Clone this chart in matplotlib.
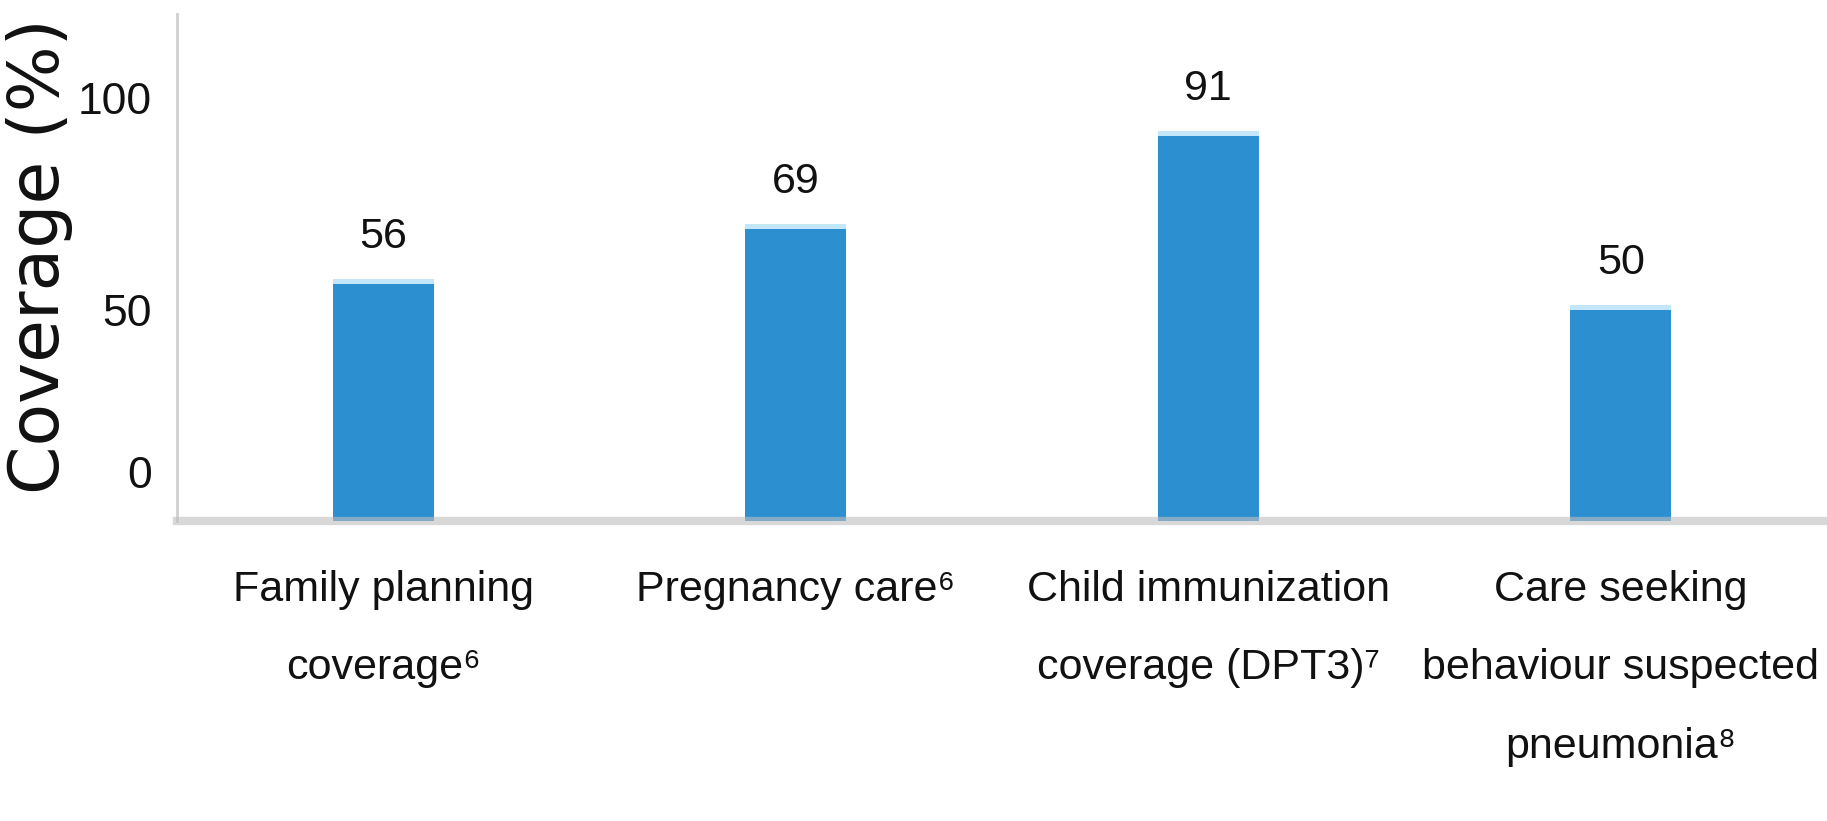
import matplotlib
matplotlib.use("Agg")
import matplotlib.pyplot as plt
from matplotlib.transforms import ScaledTranslation

categories = [
    "Family planning\ncoverage\u2076",
    "Pregnancy care\u2076",
    "Child immunization\ncoverage (DPT3)\u2077",
    "Care seeking\nbehaviour suspected\npneumonia\u2078",
]
values = [56, 69, 91, 50]
value_labels = ["56", "69", "91", "50"]
yticks = [0, 50, 100]
ytick_labels = ["0", "50", "100"]

fam = ["Liberation Sans", "DejaVu Sans"]
plt.rcParams["font.family"] = fam

fig = plt.figure(figsize=(18.27, 8.21), dpi=100)
ax = fig.add_axes([0.0969, 0.3654, 0.9031, 0.6176])

x = list(range(len(values)))
bar_color = "#2b8fd0"
ax.bar(x, values, width=0.245, color=bar_color, zorder=3)
# light highlight along bar tops
ax.bar(x, [1.2] * len(values), bottom=values, width=0.245, color="#c3e6f8", zorder=3)

for xi, v, lab in zip(x, values, value_labels):
    ax.annotate(lab, (xi, v), xytext=(0, 26), textcoords="offset points",
                ha="center", va="baseline", fontsize=31, color="#111111")

ax.set_xlim(-0.5, 3.5)
ax.set_ylim(0, 120)
ax.set_xticks(x)
ax.set_xticklabels(categories, fontsize=31, linespacing=2.25, color="#111111")
ax.set_yticks(yticks)
ax.set_yticklabels(ytick_labels, fontsize=32, color="#111111")
ax.tick_params(axis="both", length=0)
ax.tick_params(axis="x", pad=35)
ax.tick_params(axis="y", pad=18)

for s in ["top", "right"]:
    ax.spines[s].set_visible(False)
ax.spines["left"].set_color("#d0d0d0")
ax.spines["left"].set_linewidth(2)
ax.spines["bottom"].set_color((0.75, 0.75, 0.75, 0.6))
ax.spines["bottom"].set_linewidth(6)
ax.spines["bottom"].set_zorder(4)

# the "0" label sits higher than the baseline in the reference
lbl0 = ax.get_yticklabels()[0]
lbl0.set_transform(lbl0.get_transform() + ScaledTranslation(0, 35 / 72, fig.dpi_scale_trans))

fig.text(40 / 1827, 1 - 256 / 821, "Coverage (%)", rotation=90, ha="center", va="center",
         fontsize=50, color="#111111", family=["DejaVu Sans"])

fig.savefig("out.png", dpi=100, facecolor="white")
